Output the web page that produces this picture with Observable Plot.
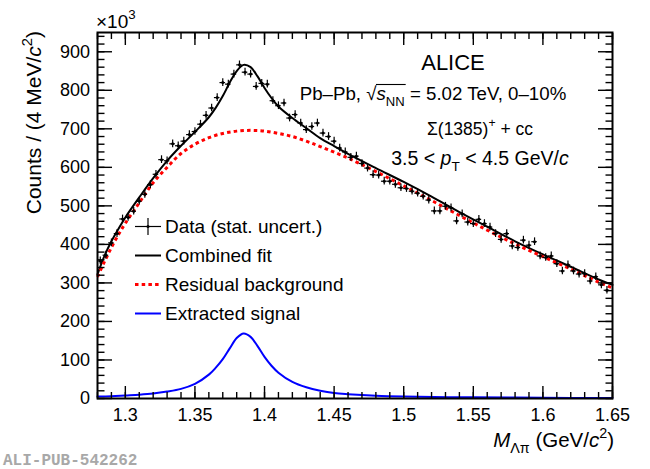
<!DOCTYPE html>
<html><head><meta charset="utf-8">
<script src="https://cdn.jsdelivr.net/npm/d3@7"></script>
<script src="https://cdn.jsdelivr.net/npm/@observablehq/plot@0.6"></script>
<style>
body{margin:0;background:#fff}
svg{font-family:"Liberation Sans",Arial,Helvetica,sans-serif}
</style>
</head><body><div id="chart"></div>
<script>
// ---- data ----
const binCenters = [
1.282,1.286,1.290,1.294,1.298,1.302,1.306,1.310,1.314,1.318,
1.322,1.326,1.330,1.334,1.338,1.342,1.346,1.350,1.354,1.358,
1.362,1.366,1.370,1.374,1.378,1.382,1.386,1.390,1.394,1.398,
1.402,1.406,1.410,1.414,1.418,1.422,1.426,1.430,1.434,1.438,
1.442,1.446,1.450,1.454,1.458,1.462,1.466,1.470,1.474,1.478,
1.482,1.486,1.490,1.494,1.498,1.502,1.506,1.510,1.514,1.518,
1.522,1.526,1.530,1.534,1.538,1.542,1.546,1.550,1.554,1.558,
1.562,1.566,1.570,1.574,1.578,1.582,1.586,1.590,1.594,1.598,
1.602,1.606,1.610,1.614,1.618,1.622,1.626,1.630,1.634,1.638,
1.642,1.646];
const counts = [
357,372,404,428,466,470,486,512,530,555,
582,620,617,661,656,668,685,693,712,735,
754,781,820,816,842,866,847,842,810,818,
816,773,760,767,728,737,715,698,706,715,
689,680,668,650,640,626,629,610,598,581,
580,564,564,556,547,545,538,533,525,515,
487,487,499,495,461,479,458,454,465,454,
445,428,413,428,396,392,411,398,407,370,
366,370,350,331,347,331,323,324,305,316,
295,281];
const statErr = 10;      // ×10^3, stat. uncertainty per bin
const binHalfWidth = 0.002;

const fitX = [1.28,1.285,1.29,1.295,1.30,1.31,1.32,1.33,1.34,1.35,1.36,1.365,1.37,1.375,1.38,1.385,1.39,1.395,1.40,1.405,1.41,1.42,1.43,1.44,1.45,1.46,1.48,1.50,1.52,1.54,1.56,1.58,1.60,1.62,1.64,1.65];
const fitY = [322,370,408,440,470,522,572,617,656,692,730,755,785,820,850,866,860,836,806,780,758,728,702,676,655,635,598,562,524,484,446,408,374,342,309,295];

const bgX = [1.28,1.285,1.29,1.295,1.30,1.31,1.32,1.33,1.34,1.35,1.36,1.37,1.38,1.39,1.40,1.41,1.42,1.43,1.44,1.46,1.48,1.50,1.52,1.54,1.56,1.58,1.60,1.62,1.64,1.65];
const bgY = [316,355,392,425,455,508,560,600,636,660,677,688,694,696,694,688,680,668,654,624,589,552,514,475,437,401,368,336,302,287];

const sigX = [1.28,1.29,1.30,1.31,1.32,1.33,1.34,1.35,1.36,1.365,1.37,1.375,1.38,1.385,1.39,1.395,1.40,1.405,1.41,1.42,1.43,1.44,1.45,1.46,1.48,1.50,1.55,1.60,1.65];
const sigY = [5,6,8,10,13,18,25,38,62,80,102,130,157,169,160,136,108,85,67,43,29,20,14,11,7,5,3,2,1];

const xMajorTicks = [1.3,1.35,1.4,1.45,1.5,1.55,1.6,1.65];
const xTickLabels = ["1.3","1.35","1.4","1.45","1.5","1.55","1.6","1.65"];
const yMajorTicks = [0,100,200,300,400,500,600,700,800,900];
const yTickLabels = ["0","100","200","300","400","500","600","700","800","900"];
const xMinorTicks = d3.range(128, 166).map(d => d / 100);
const yMinorTicks = d3.range(0, 960, 20);

// ---- tables ----
const points = binCenters.map((x, i) => ({x, y: counts[i]}));
const fit = fitX.map((x, i) => ({x, y: fitY[i]}));
const bg = bgX.map((x, i) => ({x, y: bgY[i]}));
const sig = sigX.map((x, i) => ({x, y: sigY[i]}));

const noLabel = () => "";
const plot = Plot.plot({
  width: 650, height: 469,
  marginLeft: 97, marginRight: 38, marginTop: 32, marginBottom: 71,
  x: {domain: [1.28, 1.65], label: null},
  y: {domain: [0, 950], label: null},
  style: {fontFamily: '"Liberation Sans", Arial, sans-serif', fontSize: "18px", color: "black", background: "white"},
  marks: [
    Plot.line(fit, {x: "x", y: "y", stroke: "black", strokeWidth: 2, curve: "catmull-rom"}),
    Plot.line(bg, {x: "x", y: "y", stroke: "#ff0000", strokeWidth: 3, strokeDasharray: "3.5,3.2", strokeLinecap: "butt", curve: "catmull-rom"}),
    Plot.line(sig, {x: "x", y: "y", stroke: "#0000ff", strokeWidth: 2, curve: "catmull-rom"}),
    Plot.ruleX(points, {x: "x", y1: d => d.y - statErr, y2: d => d.y + statErr, stroke: "black", strokeWidth: 1.2}),
    Plot.ruleY(points, {y: "y", x1: d => d.x - binHalfWidth, x2: d => d.x + binHalfWidth, stroke: "black", strokeWidth: 1.2}),
    Plot.dot(points, {x: "x", y: "y", r: 1.5, fill: "black"}),
    // axes (ticks inside, mirrored)
    Plot.axisX({ticks: xMinorTicks, tickSize: -6, tickFormat: noLabel, strokeWidth: 1.4}),
    Plot.axisX({ticks: xMajorTicks, tickSize: -12, tickPadding: 22, strokeWidth: 1.4,
      tickFormat: d => xTickLabels[xMajorTicks.indexOf(d)], fontSize: 18}),
    Plot.axisX({anchor: "top", ticks: xMinorTicks, tickSize: -6, tickFormat: noLabel, strokeWidth: 1.4}),
    Plot.axisX({anchor: "top", ticks: xMajorTicks, tickSize: -12, tickFormat: noLabel, strokeWidth: 1.4}),
    Plot.axisY({ticks: yMinorTicks, tickSize: -7.5, tickFormat: noLabel, strokeWidth: 1.4}),
    Plot.axisY({ticks: yMajorTicks, tickSize: -15, tickPadding: 22.5, strokeWidth: 1.4,
      tickFormat: d => yTickLabels[yMajorTicks.indexOf(d)], fontSize: 18}),
    Plot.axisY({anchor: "right", ticks: yMinorTicks, tickSize: -7.5, tickFormat: noLabel, strokeWidth: 1.4}),
    Plot.axisY({anchor: "right", ticks: yMajorTicks, tickSize: -15, tickFormat: noLabel, strokeWidth: 1.4}),
    Plot.frame({stroke: "black", strokeWidth: 2})
  ]
});
document.getElementById("chart").appendChild(plot);

// ---- rich texts ----
const svg = d3.select(plot);
function rich(x, y, anchor, size, parts, extra) {
  const t = svg.append("text").attr("x", x).attr("y", y)
    .attr("text-anchor", anchor).attr("font-size", size).attr("fill", "black");
  if (extra) extra(t);
  let shift = 0;
  for (const p of parts) {
    const s = t.append("tspan").text(p.t);
    const target = p.sup ? -0.45 * size : p.sub ? 0.3 * size : 0;
    if (target !== shift) { s.attr("dy", target - shift); shift = target; }
    if (p.italic) s.attr("font-style", "italic");
    if (p.sup || p.sub) s.attr("font-size", size * 0.7);
  }
  return t;
}

// ×10^3
rich(96, 28, "start", 19, [{t: "×10"}, {t: "3", sup: true}]);

// y title
rich(0, 0, "end", 21, [{t: "Counts / (4 MeV/"}, {t: "c", italic: true}, {t: "2", sup: true}, {t: ")"}],
  t => t.attr("transform", "translate(41,31) rotate(-90)"));

// x title
rich(614, 447, "end", 20.5, [{t: "M", italic: true}, {t: "Λπ", sub: true}, {t: " (GeV/"}, {t: "c", italic: true}, {t: "2", sup: true}, {t: ")"}]);

// ALICE block
rich(453, 70, "middle", 22, [{t: "ALICE"}]);
const pbSize = 18.7;
const pb = rich(433, 100, "middle", pbSize, [{t: "Pb–Pb, √"}, {t: "s", italic: true}, {t: "NN", sub: true}, {t: " = 5.02 TeV, 0–10%"}]);
// overline of the square root
{
  const node = pb.node();
  const full = node.textContent;
  const iRoot = full.indexOf("√");
  const iEnd = full.indexOf("NN") + 1;
  const a = node.getEndPositionOfChar(iRoot);
  const b = node.getEndPositionOfChar(iEnd);
  svg.append("line").attr("x1", a.x - 0.5).attr("x2", b.x + 1).attr("y1", 100 - 15.5).attr("y2", 100 - 15.5)
    .attr("stroke", "black").attr("stroke-width", 1.1);
}
rich(480, 135, "middle", 17.5, [{t: "Σ(1385)"}, {t: "+", sup: true}, {t: " + cc"}]);
rich(480, 165, "middle", 19.5, [{t: "3.5 < "}, {t: "p", italic: true}, {t: "T", sub: true}, {t: " < 4.5 GeV/"}, {t: "c", italic: true}]);

// legend
const lg = svg.append("g");
const lx1 = 135, lx2 = 161, ltx = 165;
const rows = [233, 262, 291, 320];
lg.append("line").attr("x1", lx1).attr("x2", lx2).attr("y1", rows[0] - 6.5).attr("y2", rows[0] - 6.5).attr("stroke", "black").attr("stroke-width", 1.2);
lg.append("line").attr("x1", (lx1 + lx2) / 2).attr("x2", (lx1 + lx2) / 2).attr("y1", rows[0] - 15).attr("y2", rows[0] + 2).attr("stroke", "black").attr("stroke-width", 1.2);
lg.append("circle").attr("cx", (lx1 + lx2) / 2).attr("cy", rows[0] - 6.5).attr("r", 1.5).attr("fill", "black");
lg.append("line").attr("x1", lx1).attr("x2", lx2).attr("y1", rows[1] - 6.5).attr("y2", rows[1] - 6.5).attr("stroke", "black").attr("stroke-width", 2);
lg.append("line").attr("x1", lx1).attr("x2", lx2).attr("y1", rows[2] - 6.5).attr("y2", rows[2] - 6.5).attr("stroke", "#ff0000").attr("stroke-width", 3).attr("stroke-dasharray", "3.5,3.2");
lg.append("line").attr("x1", lx1).attr("x2", lx2).attr("y1", rows[3] - 6.5).attr("y2", rows[3] - 6.5).attr("stroke", "#0000ff").attr("stroke-width", 2);
const legendLabels = ["Data (stat. uncert.)", "Combined fit", "Residual background", "Extracted signal"];
legendLabels.forEach((s, i) => rich(ltx, rows[i], "start", 19, [{t: s}]));

// watermark
svg.append("text").attr("x", 3).attr("y", 465).attr("text-anchor", "start")
  .attr("font-family", '"Liberation Mono", "DejaVu Sans Mono", monospace')
  .attr("font-weight", "bold").attr("font-size", 16).attr("fill", "#a8a8a8").text("ALI-PUB-542262");
</script>
</body></html>
